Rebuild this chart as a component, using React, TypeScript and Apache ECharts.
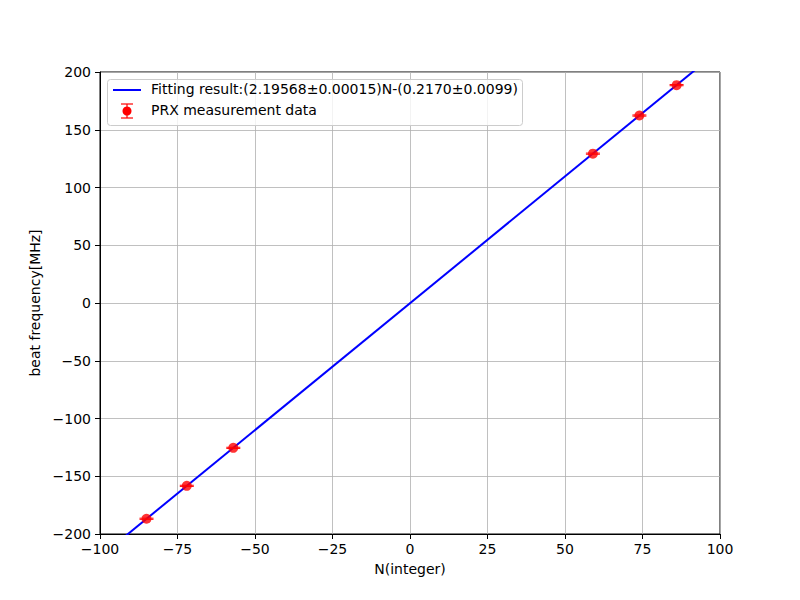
import { useEffect, useRef } from 'react';
import * as echarts from 'echarts';

// measured points (N, beat frequency in MHz)
const nValues = [-85, -72, -57, 59, 74, 86];
const beatFreq = [-186.8, -158.3, -125.4, 129.3, 162.3, 188.6];
const beatErr = [0.5, 0.5, 0.5, 0.5, 0.5, 0.5];

// fitted line ends
const fitN = [-100, 100];
const fitFreq = [-219.8, 219.4];

const xTicks = [-100, -75, -50, -25, 0, 25, 50, 75, 100];
const yTicks = [-200, -150, -100, -50, 0, 50, 100, 150, 200];

const FIT_LABEL = 'Fitting result:(2.19568\u00b10.00015)N-(0.2170\u00b10.0099)';
const DATA_LABEL = 'PRX measurement data';
const FONT = 'DejaVu Sans, sans-serif';

const minus = (v: number) => String(v).replace('-', '\u2212');

export default function App() {
  const chartRef = useRef<HTMLDivElement>(null);

  useEffect(() => {
    if (!chartRef.current) return;
    const chart = echarts.init(chartRef.current, undefined, { renderer: 'svg' });

    const axisCommon = {
      axisLine: { show: true, onZero: false, lineStyle: { color: '#000', width: 1 } },
      axisTick: { show: true, inside: false, length: 5, lineStyle: { color: '#000', width: 1 } },
      splitLine: { show: true, lineStyle: { color: '#b0b0b0', width: 0.8 } },
      nameTextStyle: { color: '#000', fontSize: 14, fontFamily: FONT },
    };

    chart.setOption({
      animation: false,
      backgroundColor: '#fff',
      textStyle: { fontFamily: FONT },
      grid: {
        left: 100,
        right: 80,
        top: 72,
        bottom: 66,
        show: true,
        borderColor: '#000',
        borderWidth: 1,
        backgroundColor: 'transparent',
      },
      xAxis: {
        type: 'value',
        min: xTicks[0],
        max: xTicks[xTicks.length - 1],
        interval: 25,
        name: 'N(integer)',
        nameLocation: 'middle',
        nameGap: 28,
        ...axisCommon,
        axisLabel: { color: '#000', fontSize: 14, margin: 8, formatter: minus },
      },
      yAxis: {
        type: 'value',
        min: yTicks[0],
        max: yTicks[yTicks.length - 1],
        interval: 50,
        name: 'beat frequency[MHz]',
        nameLocation: 'middle',
        nameGap: 56,
        ...axisCommon,
        axisLabel: { color: '#000', fontSize: 14, margin: 9, formatter: minus },
      },
      series: [
        {
          type: 'line',
          name: 'fit',
          data: fitN.map((n, i) => [n, fitFreq[i]]),
          showSymbol: false,
          clip: true,
          lineStyle: { color: '#0000ff', width: 2 },
          z: 2,
        },
        {
          type: 'custom',
          name: 'errorbars',
          data: nValues.map((n, i) => [n, beatFreq[i] - beatErr[i], beatFreq[i] + beatErr[i]]),
          renderItem: (params: any, api: any) => {
            const lo = api.coord([api.value(0), api.value(1)]);
            const hi = api.coord([api.value(0), api.value(2)]);
            const half = 7;
            const style = { stroke: '#ff0000', lineWidth: 1 };
            return {
              type: 'group',
              children: [
                { type: 'line', shape: { x1: lo[0], y1: lo[1], x2: hi[0], y2: hi[1] }, style },
                { type: 'line', shape: { x1: lo[0] - half, y1: lo[1], x2: lo[0] + half, y2: lo[1] }, style },
                { type: 'line', shape: { x1: hi[0] - half, y1: hi[1], x2: hi[0] + half, y2: hi[1] }, style },
              ],
            };
          },
          z: 3,
        },
        {
          type: 'scatter',
          name: DATA_LABEL,
          data: nValues.map((n, i) => [n, beatFreq[i]]),
          symbol: 'circle',
          symbolSize: 10,
          itemStyle: { color: '#ff0000' },
          z: 4,
        },
      ],
      graphic: [
        {
          type: 'rect',
          left: 107,
          top: 79,
          shape: { width: 415, height: 46, r: 3 },
          style: { fill: 'rgba(255,255,255,0.8)', stroke: '#cccccc', lineWidth: 1 },
          z: 10,
        },
        {
          type: 'line',
          shape: { x1: 113, y1: 90, x2: 141, y2: 90 },
          style: { stroke: '#0000ff', lineWidth: 2 },
          z: 11,
        },
        {
          type: 'text',
          left: 151,
          top: 82,
          style: { text: FIT_LABEL, fontSize: 14, fill: '#000', fontFamily: FONT },
          z: 11,
        },
        {
          type: 'line',
          shape: { x1: 127, y1: 104, x2: 127, y2: 118 },
          style: { stroke: '#ff0000', lineWidth: 1.2 },
          z: 11,
        },
        {
          type: 'line',
          shape: { x1: 121, y1: 104, x2: 133, y2: 104 },
          style: { stroke: '#ff0000', lineWidth: 1.2 },
          z: 11,
        },
        {
          type: 'line',
          shape: { x1: 121, y1: 118, x2: 133, y2: 118 },
          style: { stroke: '#ff0000', lineWidth: 1.2 },
          z: 11,
        },
        {
          type: 'circle',
          shape: { cx: 127, cy: 111, r: 4.5 },
          style: { fill: '#ff0000' },
          z: 11,
        },
        {
          type: 'text',
          left: 151,
          top: 103,
          style: { text: DATA_LABEL, fontSize: 14, fill: '#000', fontFamily: FONT },
          z: 11,
        },
      ],
    });

    return () => {
      chart.dispose();
    };
  }, []);

  return <div ref={chartRef} style={{ width: 800, height: 600, margin: -8 }} />;
}
